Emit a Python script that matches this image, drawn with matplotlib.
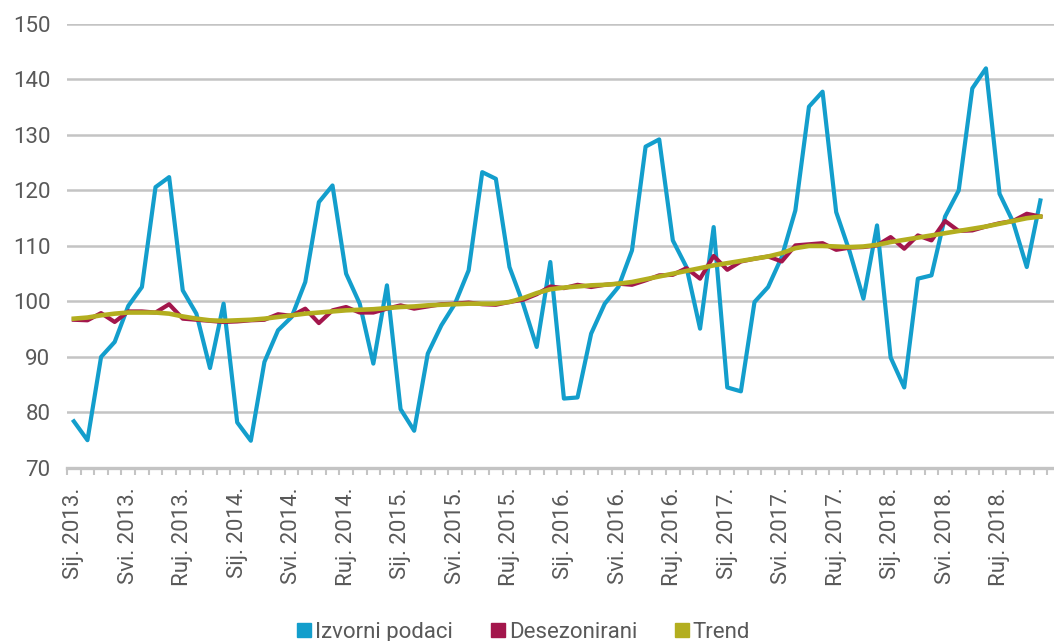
import matplotlib
matplotlib.use('Agg')
import matplotlib.pyplot as plt
from matplotlib.lines import Line2D
import numpy as np

plt.rcParams['font.family'] = ['Roboto', 'DejaVu Sans']

years = [2013, 2014, 2015, 2016, 2017, 2018]
label_months = ['Sij.', 'Svi.', 'Ruj.']

# indeks, mjesecno sij. 2013. - pro. 2018.
izvorni = [78.4, 75.0, 90.0, 92.7, 99.2, 102.6, 120.6, 122.4, 102.0, 97.8, 88.0, 99.6,
           78.2, 74.9, 89.1, 94.8, 97.2, 103.5, 117.9, 120.9, 105.0, 99.6, 88.8, 102.9,
           80.6, 76.7, 90.6, 95.7, 99.6, 105.6, 123.3, 122.1, 106.2, 99.6, 91.8, 107.1,
           82.5, 82.7, 94.2, 99.6, 102.6, 109.2, 127.9, 129.2, 111.0, 106.2, 95.1, 113.4,
           84.5, 83.8, 99.9, 102.6, 108.0, 116.4, 135.1, 137.8, 116.1, 108.9, 100.5, 113.7,
           89.9, 84.5, 104.1, 104.7, 115.3, 120.0, 138.4, 142.0, 119.4, 114.3, 106.2, 118.2]

desezonirani = [96.7, 96.6, 97.9, 96.3, 98.2, 98.2, 98.0, 99.5, 96.9, 96.7, 96.5, 96.3,
                96.4, 96.6, 96.7, 97.7, 97.4, 98.7, 96.1, 98.4, 99.0, 98.0, 98.0, 98.7,
                99.3, 98.7, 99.1, 99.5, 99.6, 99.8, 99.5, 99.4, 99.9, 100.3, 101.3, 102.7,
                102.4, 103.0, 102.6, 103.0, 103.2, 103.0, 103.8, 104.7, 104.8, 106.0, 104.1, 108.2,
                105.7, 107.2, 107.7, 108.1, 107.2, 110.1, 110.3, 110.5, 109.3, 109.7, 109.8, 110.1,
                111.6, 109.5, 111.9, 111.0, 114.5, 112.7, 112.8, 113.5, 114.1, 114.5, 115.8, 115.3]

trend = [96.9, 97.1, 97.5, 97.8, 98.0, 98.0, 98.0, 97.8, 97.3, 96.9, 96.6, 96.5,
         96.6, 96.7, 96.9, 97.2, 97.5, 97.8, 98.0, 98.2, 98.4, 98.5, 98.6, 98.8,
         99.0, 99.1, 99.3, 99.4, 99.5, 99.6, 99.6, 99.6, 99.9, 100.6, 101.5, 102.2,
         102.5, 102.7, 102.9, 103.0, 103.2, 103.5, 104.0, 104.5, 105.0, 105.5, 106.0, 106.5,
         106.9, 107.3, 107.7, 108.1, 108.7, 109.6, 110.0, 110.0, 109.9, 109.8, 109.9, 110.2,
         110.7, 111.1, 111.5, 111.9, 112.3, 112.7, 113.1, 113.5, 114.0, 114.5, 115.0, 115.3]

tick_labels = [m + ' ' + str(y) + '.' for y in years for m in label_months]

c_blue = '#139ECC'
c_red = '#A3164C'
c_olive = '#B3AE1F'
c_grid = '#C4C4C4'
c_text = '#595959'

x = np.arange(len(izvorni))

fig = plt.figure(figsize=(10.54, 6.41), dpi=100)
ax = fig.add_axes([0.0636, 0.27, 0.9364, 0.6926])

ax.plot(x, izvorni, color=c_blue, lw=3.0, zorder=3)
ax.plot(x, desezonirani, color=c_red, lw=3.0, zorder=4)
ax.plot(x, trend, color=c_olive, lw=3.3, zorder=5)

ax.set_ylim(70, 150)
ax.set_xlim(-0.5, 72.0)
ax.set_yticks(np.arange(70, 151, 10))
ax.tick_params(axis='y', length=0, pad=12, labelsize=16, labelcolor=c_text)
for yv in range(80, 151, 10):
    ax.axhline(yv, color=c_grid, lw=1.8, zorder=1)

# labels every 4 months, tick marks between months
ax.set_xticks(np.arange(0, len(x), 4))
ax.set_xticklabels(tick_labels, rotation=90)
ax.set_xticks(np.arange(-0.5, 72.0, 1), minor=True)
ax.tick_params(axis='x', which='major', length=0, pad=14, labelsize=16, labelcolor=c_text)
ax.tick_params(axis='x', which='minor', length=5, width=1.5, color=c_grid)

for s in ['top', 'right', 'left']:
    ax.spines[s].set_visible(False)
ax.spines['bottom'].set_color(c_grid)
ax.spines['bottom'].set_linewidth(2.4)
ax.spines['bottom'].set_zorder(2)

handles = [Line2D([], [], ls='none', marker='s', ms=9.5, color=c) for c in [c_blue, c_red, c_olive]]
leg = fig.legend(handles, ['Izvorni podaci', 'Desezonirani', 'Trend'], loc='lower center',
                 bbox_to_anchor=(0.496, -0.034), ncol=3, frameon=False, fontsize=16,
                 handletextpad=0.1, columnspacing=1.6, handlelength=0.8)
for t in leg.get_texts():
    t.set_color(c_text)

plt.savefig('out.png', dpi=100)
